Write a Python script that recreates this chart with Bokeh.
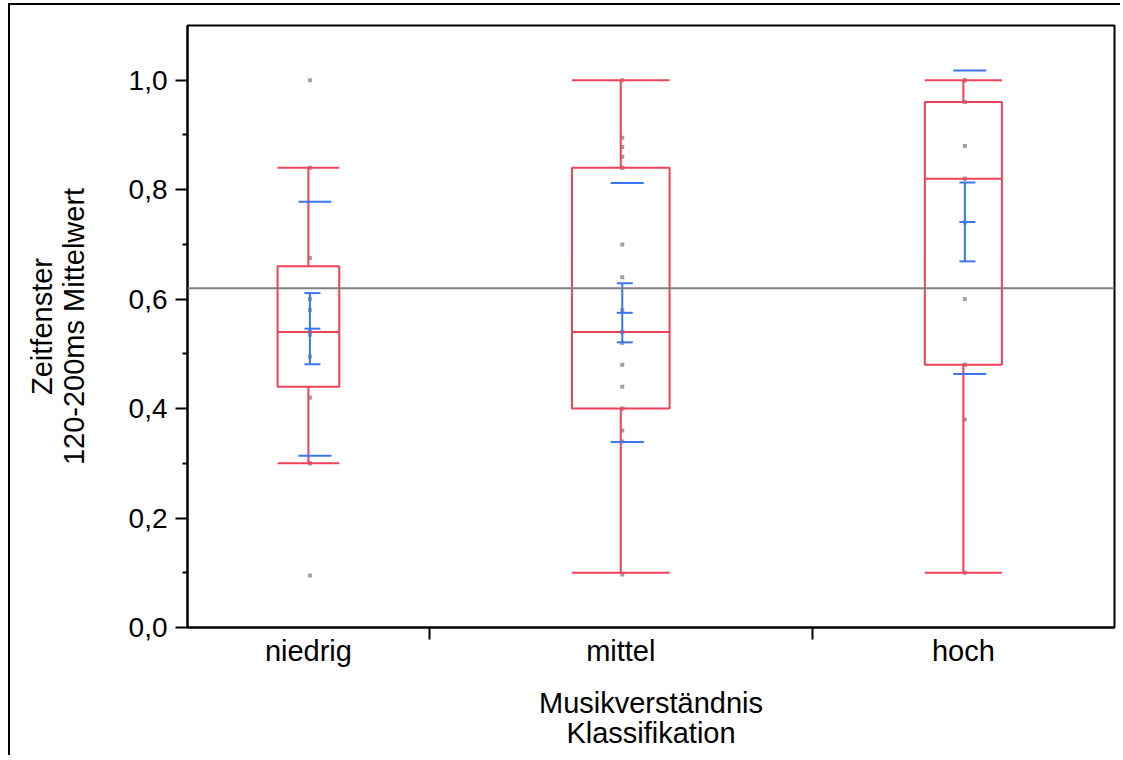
from bokeh.plotting import figure
from bokeh.models import FixedTicker, Range1d, ColumnDataSource, Span
from bokeh.embed import file_html
from bokeh.resources import INLINE

# ---------------- data ----------------
categories = ["niedrig", "mittel", "hoch"]
group_n = [12, 19, 15]

whisker_low = [0.30, 0.10, 0.10]
q1 = [0.44, 0.40, 0.48]
median = [0.54, 0.54, 0.82]
q3 = [0.66, 0.84, 0.96]
whisker_high = [0.84, 1.00, 1.00]

means = [0.546, 0.575, 0.741]
ci_low = [0.481, 0.521, 0.669]
ci_high = [0.611, 0.629, 0.813]
sd_low = [0.314, 0.339, 0.463]
sd_high = [0.778, 0.812, 1.018]

grand_mean = 0.62

points_niedrig = [1.00, 0.84, 0.675, 0.60, 0.58, 0.54, 0.535, 0.495, 0.42, 0.30, 0.30, 0.095]
points_mittel = [1.00, 0.895, 0.878, 0.86, 0.84, 0.84, 0.70, 0.64, 0.58, 0.54, 0.54, 0.52,
                 0.48, 0.44, 0.40, 0.40, 0.36, 0.34, 0.097]
points_hoch = [1.00, 1.00, 1.00, 0.96, 0.96, 0.96, 0.88, 0.82, 0.82, 0.74, 0.60, 0.48, 0.48, 0.38, 0.10]

y_ticks = [0.0, 0.2, 0.4, 0.6, 0.8, 1.0]
y_tick_labels = ["0,0", "0,2", "0,4", "0,6", "0,8", "1,0"]
y_minor_ticks = [0.1, 0.3, 0.5, 0.7, 0.9]

x_title = "Musikverständnis\nKlassifikation"
y_title = "Zeitfenster\n120-200ms Mittelwert"

# ---------------- layout / style ----------------
FRAME_W, FRAME_H = 927, 602
N_TOTAL = sum(group_n)
PX = FRAME_W / N_TOTAL          # pixels per x unit
RED = "#EE4258"
BLUE = "#3A76F0"
GRAY_PT = "#A0A0A0"
GRAY_LINE = "#7F7F7F"
FONT = "Liberation Sans"

starts, centers, bounds = [], [], []
acc = 0
for n in group_n:
    starts.append(acc)
    centers.append(acc + n / 2)
    acc += n
    bounds.append(acc)
bounds = bounds[:-1]

box_half = [0.255 * n / 2 for n in group_n]
box_left = [c - h for c, h in zip(centers, box_half)]
box_right = [c + h for c, h in zip(centers, box_half)]

p = figure(frame_width=FRAME_W, frame_height=FRAME_H,
           x_range=Range1d(0, N_TOTAL), y_range=Range1d(0, 1.1),
           output_backend="svg", toolbar_location=None,
           min_border_left=177, min_border_right=6,
           min_border_top=20, min_border_bottom=128,
           background_fill_color="white", border_fill_color="white")
p.styles = {"border-left": "2px solid black", "border-top": "2px solid black",
            "margin-left": "8px", "margin-top": "3px"}

p.xgrid.visible = False
p.ygrid.visible = False
p.outline_line_color = "black"
p.outline_line_width = 2
p.outline_line_alpha = 1

# x axis
xax = p.xaxis[0]
xax.ticker = FixedTicker(ticks=centers, minor_ticks=bounds)
xax.major_label_overrides = {c: name for c, name in zip(centers, categories)}
xax.major_tick_out = 0
xax.major_tick_in = 0
xax.minor_tick_out = 12
xax.minor_tick_in = 0
xax.minor_tick_line_color = "black"
xax.minor_tick_line_width = 2
xax.axis_line_color = "black"
xax.axis_line_width = 2
xax.major_label_standoff = -5
xax.major_label_text_font = FONT
xax.major_label_text_font_size = "29px"
xax.major_label_text_color = "black"
xax.axis_label = x_title
xax.axis_label_standoff = 17
xax.axis_label_text_font = FONT
xax.axis_label_text_font_size = "29px"
xax.axis_label_text_line_height = 0.95
xax.axis_label_text_font_style = "normal"
xax.axis_label_text_color = "black"

# y axis
yax = p.yaxis[0]
yax.ticker = FixedTicker(ticks=y_ticks, minor_ticks=y_minor_ticks)
yax.major_label_overrides = {t: l for t, l in zip(y_ticks, y_tick_labels)}
yax.major_tick_out = 12
yax.major_tick_in = 0
yax.minor_tick_out = 5
yax.minor_tick_in = 0
yax.major_tick_line_width = 2
yax.minor_tick_line_width = 2
yax.axis_line_color = "black"
yax.axis_line_width = 2
yax.major_label_standoff = 8
yax.major_label_text_font = FONT
yax.major_label_text_font_size = "28px"
yax.major_label_text_color = "black"
yax.axis_label = y_title
yax.axis_label_standoff = 36
yax.axis_label_text_font = FONT
yax.axis_label_text_font_size = "29px"
yax.axis_label_text_line_height = 1.0
yax.axis_label_text_font_style = "normal"
yax.axis_label_text_color = "black"

# raw points
for c, pts in zip(centers, [points_niedrig, points_mittel, points_hoch]):
    p.scatter(x=[c + 1.5 / PX] * len(pts), y=pts, marker="square", size=4,
              fill_color=GRAY_PT, line_color=None)

# boxes
box = ColumnDataSource(dict(x=centers, left=box_left, right=box_right,
                            q1=q1, q3=q3, med=median, lo=whisker_low, hi=whisker_high))
p.quad(left="left", right="right", bottom="q1", top="q3", source=box,
       fill_color=None, line_color=RED, line_width=2)
p.segment(x0="left", x1="right", y0="med", y1="med", source=box, line_color=RED, line_width=2)
p.segment(x0="x", x1="x", y0="q3", y1="hi", source=box, line_color=RED, line_width=2)
p.segment(x0="x", x1="x", y0="lo", y1="q1", source=box, line_color=RED, line_width=2)
p.segment(x0="left", x1="right", y0="hi", y1="hi", source=box, line_color=RED, line_width=2)
p.segment(x0="left", x1="right", y0="lo", y1="lo", source=box, line_color=RED, line_width=2)

# grand mean line
p.add_layout(Span(location=grand_mean, dimension="width", line_color=GRAY_LINE, line_width=2))

# means, confidence intervals, std deviations
xb = [c + 1.5 / PX for c in centers]
cap_l = [c + (4.0 - 8.0) / PX for c in centers]
cap_r = [c + (4.0 + 8.0) / PX for c in centers]
sd_l = [c + (6.5 - 16.5) / PX for c in centers]
sd_r = [c + (6.5 + 16.5) / PX for c in centers]
ms = ColumnDataSource(dict(xb=xb, cl=cap_l, cr=cap_r, sl=sd_l, sr=sd_r,
                           m=means, cil=ci_low, cih=ci_high, sdl=sd_low, sdh=sd_high))
p.segment(x0="xb", x1="xb", y0="cil", y1="cih", source=ms, line_color=BLUE, line_width=2)
for y in ["cil", "cih", "m"]:
    p.segment(x0="cl", x1="cr", y0=y, y1=y, source=ms, line_color=BLUE, line_width=2)
for y in ["sdl", "sdh"]:
    p.segment(x0="sl", x1="sr", y0=y, y1=y, source=ms, line_color=BLUE, line_width=2)

open("out.html", "w").write(file_html(p, INLINE))
